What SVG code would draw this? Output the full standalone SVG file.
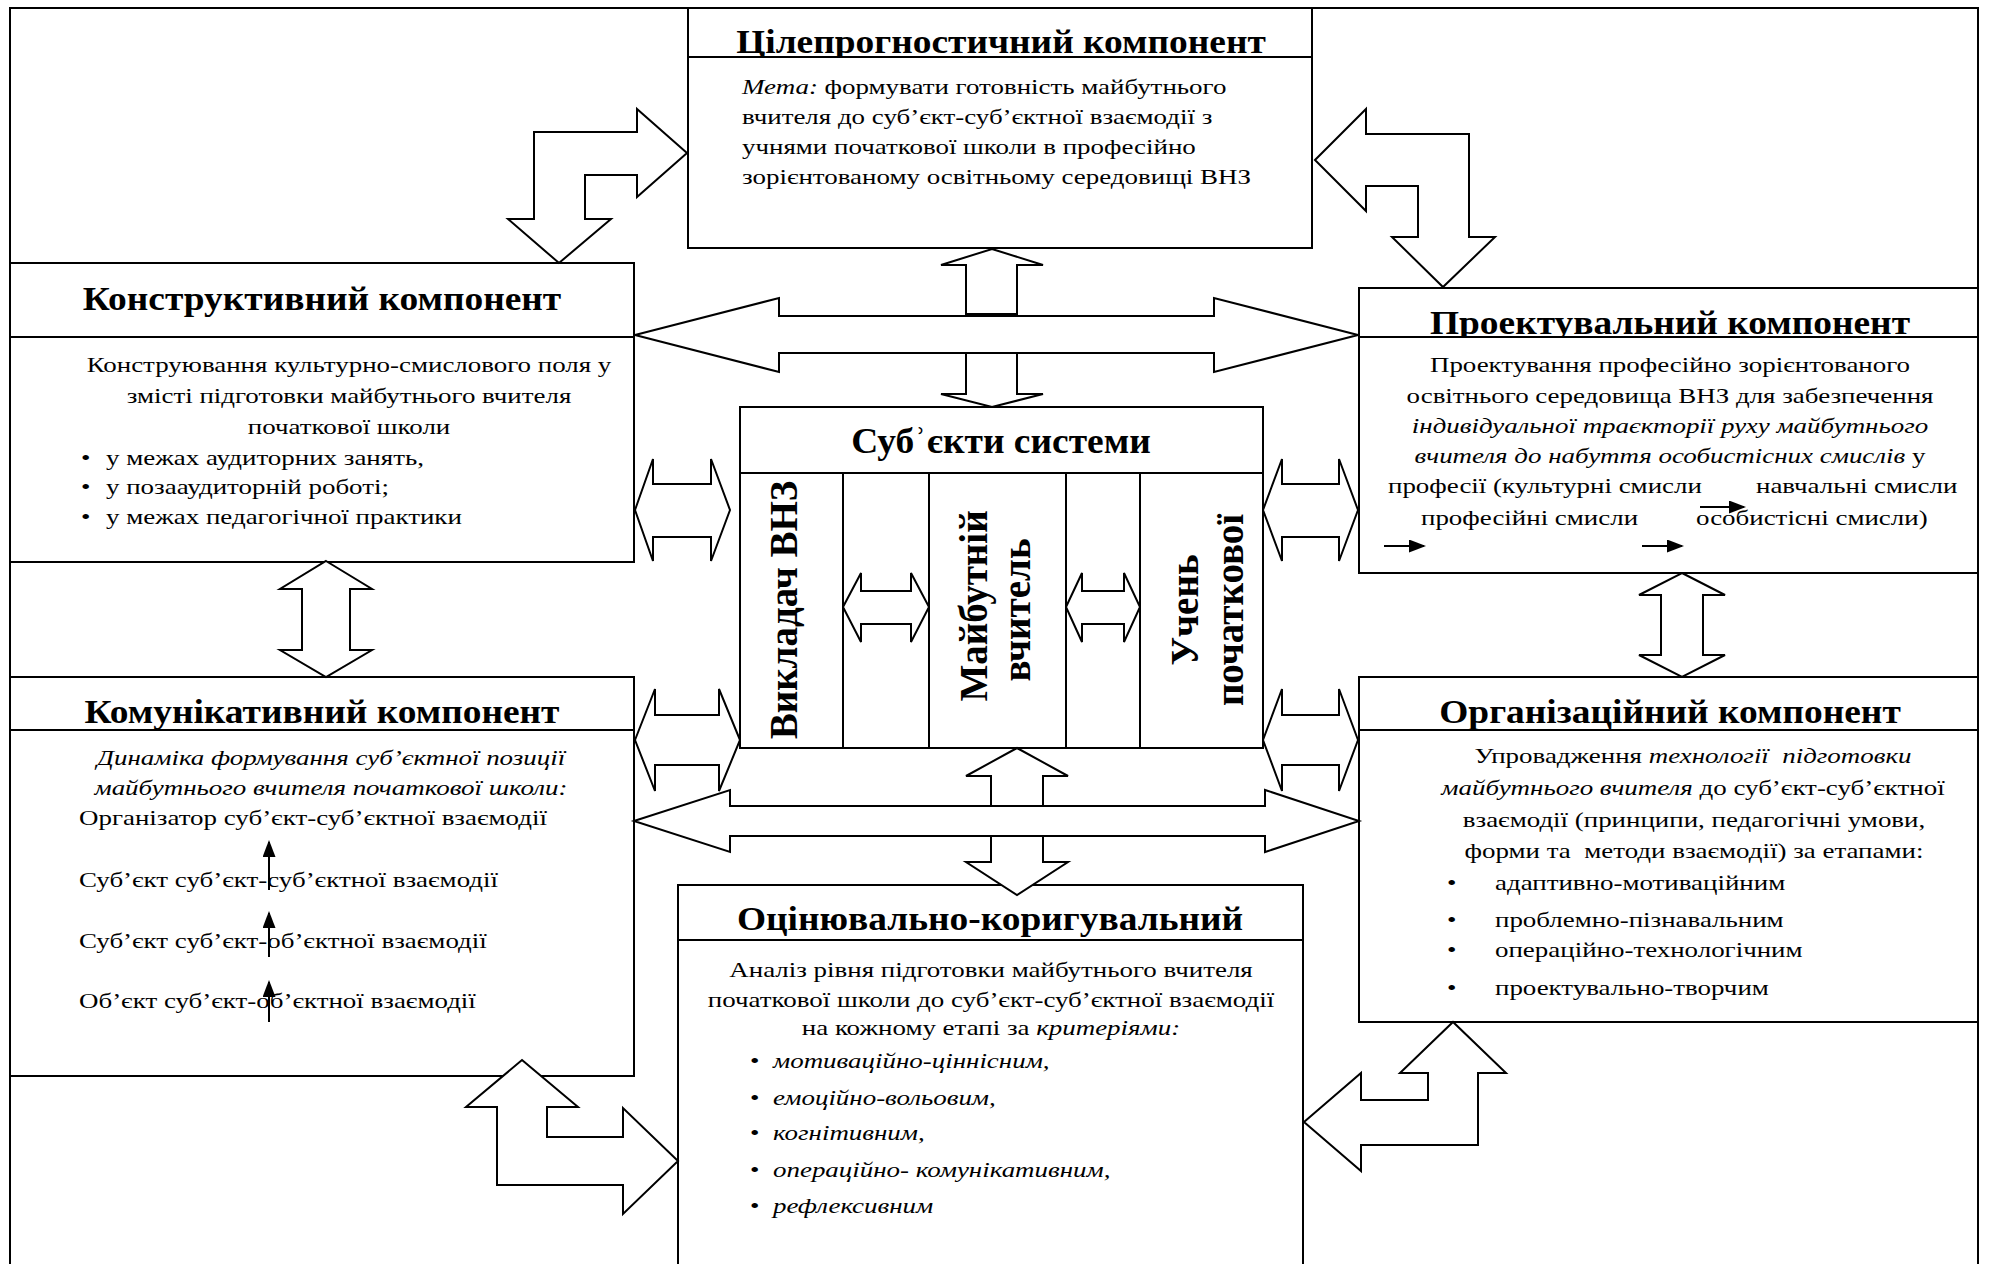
<svg xmlns="http://www.w3.org/2000/svg" width="1995" height="1264" viewBox="0 0 1995 1264">
<defs>
<style>
.bx{fill:#fff;stroke:#000;stroke-width:2}
.fr{fill:#fff;stroke:#000;stroke-width:2}
.ar{fill:#fff;stroke:#000;stroke-width:2;stroke-linejoin:miter}
.ln{stroke:#000;stroke-width:2;fill:none}
.sl{stroke:#000;stroke-width:2;fill:none;marker-end:url(#ah)}
.h{font-family:"Liberation Serif","Times New Roman",serif;font-weight:bold;font-size:34px;text-anchor:middle;fill:#000}
.v{font-family:"Liberation Serif","Times New Roman",serif;font-weight:bold;font-size:39px;text-anchor:middle;fill:#000}
.t{font-family:"Liberation Serif","Times New Roman",serif;font-size:22px;fill:#000}
.c{text-anchor:middle}
.i{font-style:italic}
.pre{white-space:pre}
</style>
<marker id="ah" markerUnits="userSpaceOnUse" markerWidth="17" markerHeight="13" refX="15" refY="6.5" orient="auto">
<path d="M0,0 L17,6.5 L0,13 Z" fill="#000"/>
</marker>
</defs>
<rect width="1995" height="1264" fill="#fff"/>
<rect id="frame" class="fr" x="10" y="8" width="1968" height="1280"/>

<g id="node-tsileprohnostychnyi">
<rect class="bx" x="688" y="8" width="624" height="240"/>
<text class="h" transform="matrix(1.1 0 0 1 1001 53)">Цілепрогностичний компонент</text>
<rect class="bx" x="688" y="57" width="624" height="191"/>
<text class="t" transform="matrix(1.225 0 0 1 742 94)"><tspan class="i">Мета:</tspan> формувати готовність майбутнього</text>
<text class="t" transform="matrix(1.225 0 0 1 742 124)">вчителя до суб’єкт-суб’єктної взаємодії з</text>
<text class="t" transform="matrix(1.225 0 0 1 742 154)">учнями початкової школи в професійно</text>
<text class="t" transform="matrix(1.225 0 0 1 742 184)">зорієнтованому освітньому середовищі ВНЗ</text>
</g>

<g id="node-konstruktyvnyi">
<rect class="bx" x="10" y="263" width="624" height="299"/>
<text class="h" transform="matrix(1.1 0 0 1 322 310)">Конструктивний компонент</text>
<rect class="bx" x="10" y="337" width="624" height="225"/>
<text class="t c" transform="matrix(1.225 0 0 1 349 372)">Конструювання культурно-смислового поля у</text>
<text class="t c" transform="matrix(1.225 0 0 1 349 403)">змісті підготовки майбутнього вчителя</text>
<text class="t c" transform="matrix(1.225 0 0 1 349 434)">початкової школи</text>
<text class="t" transform="matrix(1.225 0 0 1 81 465)">•</text><text class="t" transform="matrix(1.225 0 0 1 106 465)">у межах аудиторних занять,</text>
<text class="t" transform="matrix(1.225 0 0 1 81 494)">•</text><text class="t" transform="matrix(1.225 0 0 1 106 494)">у позааудиторній роботі;</text>
<text class="t" transform="matrix(1.225 0 0 1 81 524)">•</text><text class="t" transform="matrix(1.225 0 0 1 106 524)">у межах педагогічної практики</text>
</g>

<g id="node-proektuvalnyi">
<rect class="bx" x="1359" y="288" width="619" height="285"/>
<text class="h" transform="matrix(1.1 0 0 1 1670 334)">Проектувальний компонент</text>
<rect class="bx" x="1359" y="337" width="619" height="236"/>
<text class="t c" transform="matrix(1.225 0 0 1 1670 372)">Проектування професійно зорієнтованого</text>
<text class="t c" transform="matrix(1.225 0 0 1 1670 403)">освітнього середовища ВНЗ для забезпечення</text>
<text class="t c i" transform="matrix(1.225 0 0 1 1670 433)">індивідуальної траєкторії руху майбутнього</text>
<text class="t c" transform="matrix(1.225 0 0 1 1670 463)"><tspan class="i">вчителя до набуття особистісних смислів</tspan> у</text>
<text class="t" transform="matrix(1.225 0 0 1 1388 493)">професії (культурні смисли</text>
<text class="t" transform="matrix(1.225 0 0 1 1756 493)">навчальні смисли</text>
<text class="t" transform="matrix(1.225 0 0 1 1421 525)">професійні смисли</text>
<text class="t" transform="matrix(1.225 0 0 1 1696 525)">особистісні смисли)</text>
<line class="sl" x1="1700" y1="507" x2="1744" y2="507"/>
<line class="sl" x1="1384" y1="546" x2="1424" y2="546"/>
<line class="sl" x1="1642" y1="546" x2="1682" y2="546"/>
</g>

<g id="node-subiekty">
<rect class="bx" x="740" y="407" width="523" height="341"/>
<text class="h" transform="matrix(1.07 0 0 1 1001 453)" style="font-size:35px">Субʾєкти системи</text>
<rect class="bx" x="740" y="473" width="523" height="275"/>
<line class="ln" x1="843" y1="473" x2="843" y2="748"/>
<line class="ln" x1="929" y1="473" x2="929" y2="748"/>
<line class="ln" x1="1066" y1="473" x2="1066" y2="748"/>
<line class="ln" x1="1140" y1="473" x2="1140" y2="748"/>
<text class="v" transform="translate(797,610) rotate(-90)">Викладач ВНЗ</text>
<text class="v" transform="translate(987,606) rotate(-90)">Майбутній</text>
<text class="v" transform="translate(1030,610) rotate(-90)">вчитель</text>
<text class="v" transform="translate(1198,610) rotate(-90)">Учень</text>
<text class="v" transform="translate(1243,610) rotate(-90)">початкової</text>
</g>

<g id="node-komunikatyvnyi">
<rect class="bx" x="10" y="677" width="624" height="399"/>
<text class="h" transform="matrix(1.1 0 0 1 322 723)">Комунікативний компонент</text>
<rect class="bx" x="10" y="730" width="624" height="346"/>
<text class="t c i" transform="matrix(1.225 0 0 1 331 765)">Динаміка формування суб’єктної позиції</text>
<text class="t c i" transform="matrix(1.225 0 0 1 331 795)">майбутнього вчителя початкової школи:</text>
<text class="t" transform="matrix(1.225 0 0 1 79 825)">Організатор суб’єкт-суб’єктної взаємодії</text>
<text class="t" transform="matrix(1.225 0 0 1 79 887)">Суб’єкт суб’єкт-суб’єктної взаємодії</text>
<text class="t" transform="matrix(1.225 0 0 1 79 948)">Суб’єкт суб’єкт-об’єктної взаємодії</text>
<text class="t" transform="matrix(1.225 0 0 1 79 1008)">Об’єкт суб’єкт-об’єктної взаємодії</text>
<line class="sl" x1="269" y1="890" x2="269" y2="842"/>
<line class="sl" x1="269" y1="957" x2="269" y2="913"/>
<line class="sl" x1="269" y1="1022" x2="269" y2="982"/>
</g>

<g id="node-orhanizatsiinyi">
<rect class="bx" x="1359" y="677" width="619" height="345"/>
<text class="h" transform="matrix(1.1 0 0 1 1670 723)">Організаційний компонент</text>
<rect class="bx" x="1359" y="730" width="619" height="292"/>
<text class="t c pre" transform="matrix(1.225 0 0 1 1693 763)">Упровадження <tspan class="i">технології  підготовки</tspan></text>
<text class="t c" transform="matrix(1.225 0 0 1 1693 795)"><tspan class="i">майбутнього вчителя</tspan> до суб’єкт-суб’єктної</text>
<text class="t c" transform="matrix(1.225 0 0 1 1694 827)">взаємодії (принципи, педагогічні умови,</text>
<text class="t c pre" transform="matrix(1.225 0 0 1 1694 858)">форми та  методи взаємодії) за етапами:</text>
<text class="t" transform="matrix(1.225 0 0 1 1447 890)">•</text><text class="t" transform="matrix(1.225 0 0 1 1495 890)">адаптивно-мотиваційним</text>
<text class="t" transform="matrix(1.225 0 0 1 1447 927)">•</text><text class="t" transform="matrix(1.225 0 0 1 1495 927)">проблемно-пізнавальним</text>
<text class="t" transform="matrix(1.225 0 0 1 1447 957)">•</text><text class="t" transform="matrix(1.225 0 0 1 1495 957)">операційно-технологічним</text>
<text class="t" transform="matrix(1.225 0 0 1 1447 995)">•</text><text class="t" transform="matrix(1.225 0 0 1 1495 995)">проектувально-творчим</text>
</g>

<g id="node-otsiniuvalno">
<rect class="bx" x="678" y="885" width="625" height="400"/>
<text class="h" transform="matrix(1.1 0 0 1 990 930)">Оцінювально-коригувальний</text>
<rect class="bx" x="678" y="940" width="625" height="345"/>
<text class="t c" transform="matrix(1.225 0 0 1 991 977)">Аналіз рівня підготовки майбутнього вчителя</text>
<text class="t c" transform="matrix(1.225 0 0 1 991 1007)">початкової школи до суб’єкт-суб’єктної взаємодії</text>
<text class="t c" transform="matrix(1.225 0 0 1 991 1035)">на кожному етапі за <tspan class="i">критеріями:</tspan></text>
<text class="t" transform="matrix(1.225 0 0 1 750 1068)">•</text><text class="t i" transform="matrix(1.225 0 0 1 773 1068)">мотиваційно-ціннісним,</text>
<text class="t" transform="matrix(1.225 0 0 1 750 1105)">•</text><text class="t i" transform="matrix(1.225 0 0 1 773 1105)">емоційно-вольовим,</text>
<text class="t" transform="matrix(1.225 0 0 1 750 1140)">•</text><text class="t i" transform="matrix(1.225 0 0 1 773 1140)">когнітивним,</text>
<text class="t" transform="matrix(1.225 0 0 1 750 1177)">•</text><text class="t i" transform="matrix(1.225 0 0 1 773 1177)">операційно- комунікативним,</text>
<text class="t" transform="matrix(1.225 0 0 1 750 1213)">•</text><text class="t i" transform="matrix(1.225 0 0 1 773 1213)">рефлексивним</text>
</g>

<g id="connectors">
<polygon class="ar" points="687,153 637,109 637,132 534,132 534,219 508,219 559,263 611,219 585,219 585,175 637,175 637,197"/>
<polygon class="ar" points="1315,160 1366,109 1366,134 1469,134 1469,237 1495,237 1443,287 1392,237 1418,237 1418,186 1366,186 1366,211"/>
<polygon class="ar" points="992,249 1043,265 1017,265 1017,314 966,314 966,265 941,265"/>
<polygon class="ar" points="635,335 779,298 779,316 1214,316 1214,298 1358,335 1214,372 1214,353 779,353 779,372"/>
<polygon class="ar" points="966,353 1017,353 1017,394 1043,394 992,407 941,394 966,394"/>
<polygon class="ar" points="635,510 653,459 653,484 711,484 711,459 730,510 711,561 711,537 653,537 653,561"/>
<polygon class="ar" points="635,740 655,689 655,715 719,715 719,689 740,740 719,791 719,765 655,765 655,791"/>
<polygon class="ar" points="1263,510 1282,459 1282,484 1339,484 1339,459 1358,510 1339,561 1339,537 1282,537 1282,561"/>
<polygon class="ar" points="1263,740 1282,689 1282,715 1339,715 1339,689 1358,740 1339,791 1339,765 1282,765 1282,791"/>
<polygon class="ar" points="843,607 861,573 861,591 911,591 911,573 929,607 911,642 911,624 861,624 861,642"/>
<polygon class="ar" points="1066,607 1082,573 1082,591 1124,591 1124,573 1140,607 1124,642 1124,624 1082,624 1082,642"/>
<polygon class="ar" points="326,561 372,589 350,589 350,650 372,650 326,677 280,650 302,650 302,589 280,589"/>
<polygon class="ar" points="1682,573 1725,595 1703,595 1703,655 1725,655 1682,677 1639,655 1661,655 1661,595 1639,595"/>
<polygon class="ar" points="634,821 730,790 730,806 1265,806 1265,790 1359,821 1265,852 1265,836 730,836 730,852"/>
<polygon class="ar" points="1017,748 1068,776 1043,776 1043,806 991,806 991,776 966,776"/>
<polygon class="ar" points="991,836 1043,836 1043,862 1068,862 1017,895 966,862 991,862"/>
<polygon class="ar" points="522,1060 578,1107 547,1107 547,1137 623,1137 623,1108 678,1161 623,1214 623,1185 497,1185 497,1107 466,1107"/>
<polygon class="ar" points="1304,1122 1361,1073 1361,1100 1428,1100 1428,1073 1400,1073 1453,1022 1506,1073 1478,1073 1478,1145 1361,1145 1361,1171"/>
</g>
</svg>
